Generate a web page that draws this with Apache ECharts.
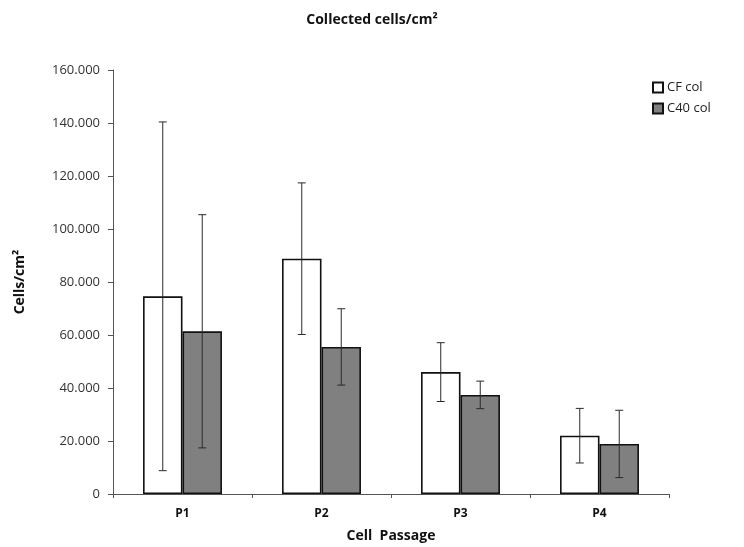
<!DOCTYPE html>
<html>
<head>
<meta charset="utf-8">
<script src="https://cdn.jsdelivr.net/npm/echarts@6/dist/echarts.min.js"></script>
<style>
  html,body{margin:0;padding:0;background:#fff;}
  #chart{width:744px;height:547px;}
</style>
</head>
<body>
<div id="chart"></div>
<script>
/* ---------- data ---------- */
const passages = ['P1','P2','P3','P4'];
const cfMean  = [74600, 88800, 46000, 22000];
const cfErr   = [65800, 28600, 11100, 10300];
const c40Mean = [61400, 55500, 37400, 18900];
const c40Err  = [44000, 14400,  5200, 12700];
const yTicks  = [0, 20000, 40000, 60000, 80000, 100000, 120000, 140000, 160000];

const FONT = '"Open Sans", "Liberation Sans", sans-serif';
const BAR_PCT = 0.284;

/* ---------- helpers ---------- */
function fmtY(v){ return v===0 ? '0' : (v/1000).toFixed(3); }

function errSeries(name, means, errs, side){
  return {
    name: name+' err',
    type: 'custom',
    silent: true,
    z: 10,
    data: means.map((m,i)=>[i, m-errs[i], m+errs[i]]),
    renderItem(params, api){
      const band = api.size([1,0])[0];
      const off = side*band*BAR_PCT/2;
      const lo = api.coord([api.value(0), api.value(1)]);
      const hi = api.coord([api.value(0), api.value(2)]);
      const x = lo[0]+off, cap = 4;
      const style = {stroke:'#2a2a2a', lineWidth:1};
      return {type:'group', children:[
        {type:'line', shape:{x1:x,y1:hi[1],x2:x,y2:lo[1]}, style},
        {type:'line', shape:{x1:x-cap,y1:hi[1],x2:x+cap,y2:hi[1]}, style},
        {type:'line', shape:{x1:x-cap,y1:lo[1],x2:x+cap,y2:lo[1]}, style}
      ]};
    }
  };
}

/* ---------- chart ---------- */
const chart = echarts.init(document.getElementById('chart'));
chart.setOption({
  animation:false,
  backgroundColor:'#fff',
  title:{
    text:'Collected cells/cm²',
    left:'center', top:8,
    textStyle:{fontFamily:FONT, fontSize:14, fontWeight:'bold', color:'#111'}
  },
  legend:{
    orient:'vertical', left:647, top:76,
    icon:'rect',
    itemWidth:10, itemHeight:10, itemGap:8,
    data:['CF col','C40 col'],
    textStyle:{fontFamily:FONT, fontSize:13, color:'#222', padding:[0,0,0,-1]}
  },
  grid:{left:113, right:75, top:70, bottom:53, outerBoundsMode:'none'},
  xAxis:{
    type:'category',
    data:passages,
    name:'Cell  Passage',
    nameLocation:'middle', nameGap:35,
    nameTextStyle:{fontFamily:FONT, fontSize:14, fontWeight:'bold', color:'#111'},
    axisLine:{lineStyle:{color:'#555', width:1}},
    axisTick:{show:true, length:4, lineStyle:{color:'#555'}},
    axisLabel:{fontFamily:FONT, fontSize:12, fontWeight:'bold', color:'#111', margin:14}
  },
  yAxis:{
    type:'value',
    min:yTicks[0], max:yTicks[yTicks.length-1], interval:20000,
    name:'Cells/cm²',
    nameLocation:'middle', nameGap:86, nameRotate:90,
    nameTextStyle:{fontFamily:FONT, fontSize:14, fontWeight:'bold', color:'#111'},
    axisLine:{show:true, lineStyle:{color:'#555', width:1}},
    axisTick:{show:true, length:5, lineStyle:{color:'#555'}},
    splitLine:{show:false},
    axisLabel:{fontFamily:FONT, fontSize:13, color:'#333', margin:13, formatter:fmtY}
  },
  series:[
    {
      name:'CF col', type:'bar', data:cfMean,
      barWidth:(BAR_PCT*100)+'%', barGap:'0%',
      itemStyle:{color:'#ffffff', borderColor:'#111', borderWidth:1.6}
    },
    {
      name:'C40 col', type:'bar', data:c40Mean,
      barWidth:(BAR_PCT*100)+'%', barGap:'0%',
      itemStyle:{color:'#808080', borderColor:'#111', borderWidth:1.6}
    },
    errSeries('CF col', cfMean, cfErr, -1),
    errSeries('C40 col', c40Mean, c40Err, 1)
  ]
});
</script>
</body>
</html>
